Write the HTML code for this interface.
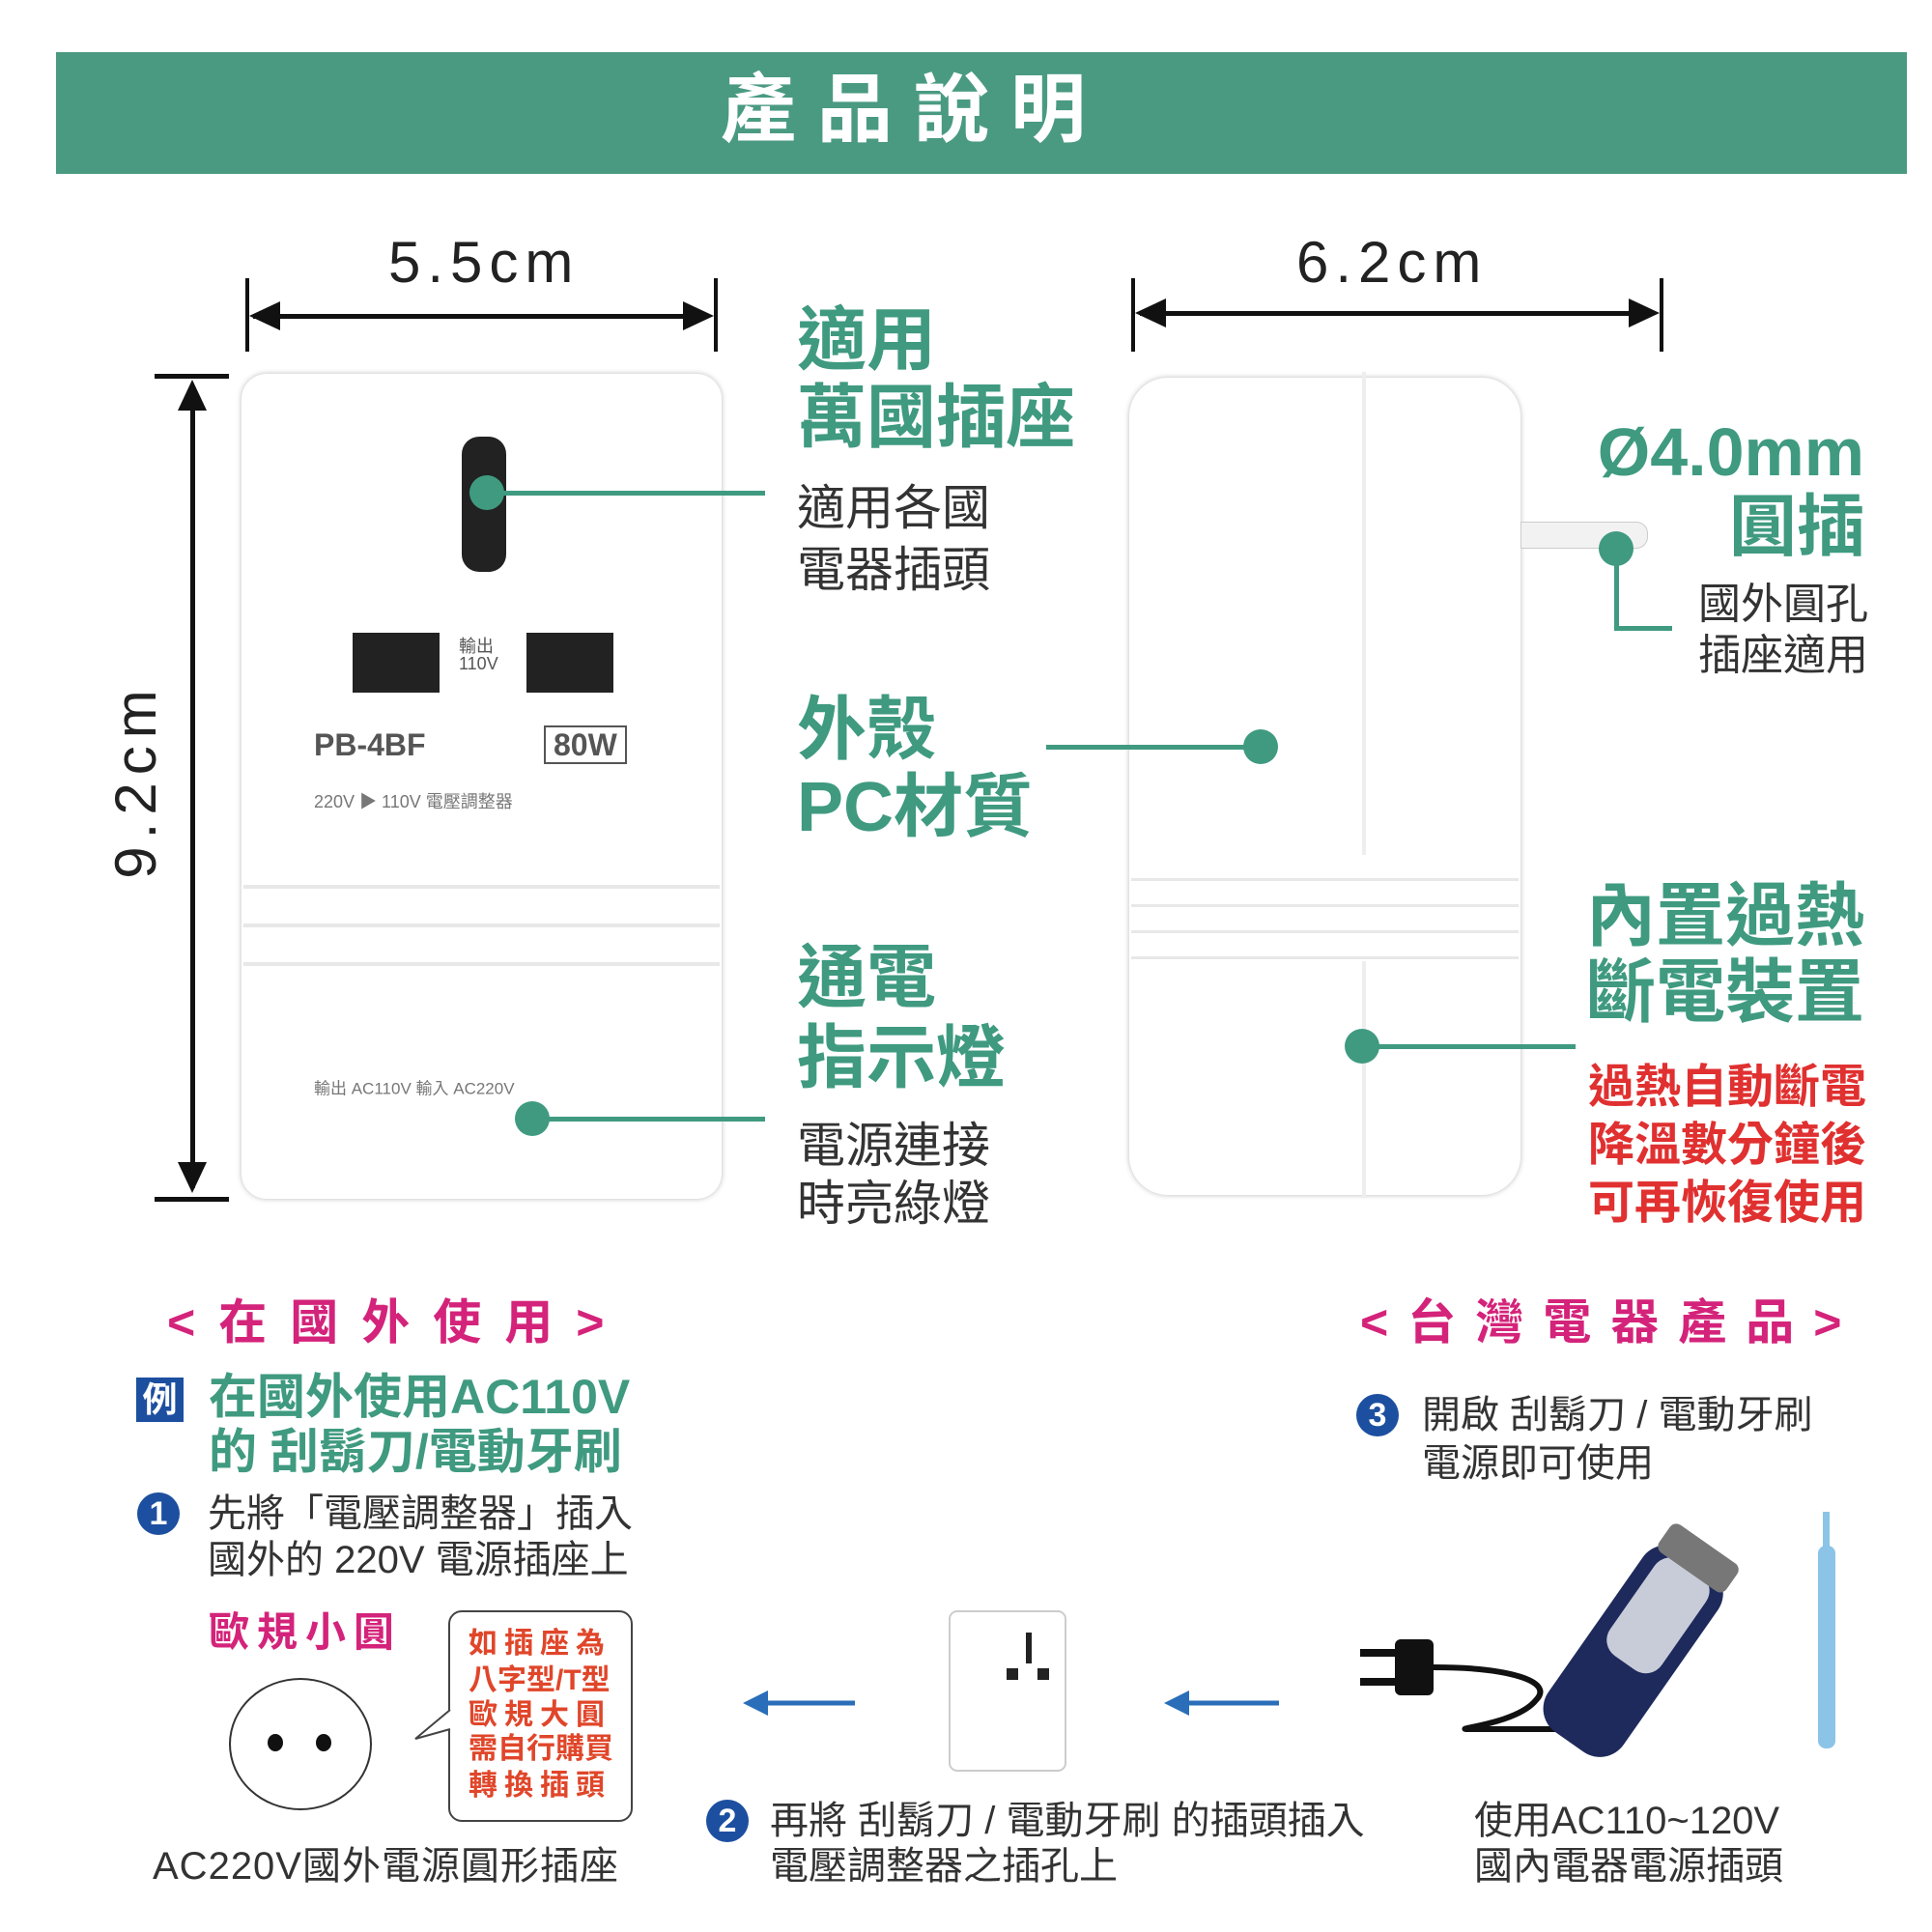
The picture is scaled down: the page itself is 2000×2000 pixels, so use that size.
<!DOCTYPE html>
<html><head><meta charset="utf-8"><style>
body{margin:0;width:2000px;height:2000px;background:#fff;position:relative;overflow:hidden;font-family:"Liberation Sans","Noto Sans CJK TC",sans-serif}
.t{position:absolute;white-space:nowrap;line-height:1;transform:translateY(-50%)}
.g{color:#3f9a80;font-weight:bold}
.k{color:#333}
.m{color:#d4237a;font-weight:bold}
.r{color:#e0462a;font-weight:bold}
.red{color:#e03030;font-weight:bold}
.ln{position:absolute;background:#3f9a80}
.dot{position:absolute;width:36px;height:36px;border-radius:50%;background:#3f9a80;transform:translate(-50%,-50%)}
.blk{position:absolute;background:#111}
.num{position:absolute;width:44px;height:44px;border-radius:50%;background:#1d4fa0;color:#fff;font-weight:bold;font-size:34px;line-height:44px;text-align:center;transform:translate(-50%,-50%)}
</style></head><body>
<div style="position:absolute;left:58px;top:54px;width:1916px;height:126px;background:#4a9a82"></div>
<div class="t" style="left:746px;top:113px;font-size:78px;color:#fff;font-weight:bold;letter-spacing:22px">產品說明</div>

<div class="t" style="left:402px;top:272px;font-size:60px;color:#222;letter-spacing:7px">5.5cm</div>
<div class="blk" style="left:254px;top:288px;width:4px;height:76px"></div>
<div class="blk" style="left:739px;top:288px;width:4px;height:76px"></div>
<div class="blk" style="left:262px;top:325px;width:470px;height:5px"></div>
<svg style="position:absolute;left:0;top:0" width="2000" height="2000">
<polygon points="258,327 290,312 290,342" fill="#111"/>
<polygon points="739,327 707,312 707,342" fill="#111"/>
<polygon points="1175,324 1207,309 1207,339" fill="#111"/>
<polygon points="1718,324 1686,309 1686,339" fill="#111"/>
<polygon points="199,393 184,425 214,425" fill="#111"/>
<polygon points="199,1235 184,1203 214,1203" fill="#111"/>
</svg>
<div class="t" style="left:1342px;top:272px;font-size:60px;color:#222;letter-spacing:7px">6.2cm</div>
<div class="blk" style="left:1171px;top:288px;width:4px;height:76px"></div>
<div class="blk" style="left:1718px;top:288px;width:4px;height:76px"></div>
<div class="blk" style="left:1180px;top:322px;width:530px;height:5px"></div>
<div class="blk" style="left:160px;top:387px;width:77px;height:5px"></div>
<div class="blk" style="left:160px;top:1239px;width:77px;height:5px"></div>
<div class="blk" style="left:197px;top:400px;width:5px;height:830px"></div>
<div class="t" style="left:141px;top:808px;font-size:60px;color:#222;letter-spacing:8px;transform:translate(-50%,-50%) rotate(-90deg)">9.2cm</div>

<div style="position:absolute;left:250px;top:387px;width:497px;height:854px;border-radius:26px;background:#fff;box-shadow:0 0 6px #bbb"></div>
<div style="position:absolute;left:252px;top:880px;width:493px;height:150px;background:repeating-linear-gradient(#fff 0 36px,#e8e8e8 36px 40px)"></div>
<div class="blk" style="left:478px;top:452px;width:46px;height:140px;border-radius:18px;background:#222"></div>
<div class="blk" style="left:365px;top:655px;width:90px;height:62px;background:#222"></div>
<div class="blk" style="left:545px;top:655px;width:90px;height:62px;background:#222"></div>
<div class="t" style="left:475px;top:678px;font-size:18px;color:#555">輸出<br>110V</div>
<div class="t" style="left:325px;top:771px;font-size:32px;color:#555;font-weight:bold">PB-4BF</div>
<div class="t" style="left:563px;top:771px;font-size:32px;color:#555;font-weight:bold;border:2px solid #555;padding:2px 8px">80W</div>
<div class="t" style="left:325px;top:830px;font-size:18px;color:#777">220V ▶ 110V 電壓調整器</div>
<div class="t" style="left:325px;top:1127px;font-size:17px;color:#777">輸出 AC110V 輸入 AC220V</div>
<div class="dot" style="left:504px;top:510px"></div>
<div class="ln" style="left:504px;top:508px;width:288px;height:5px"></div>
<div class="dot" style="left:551px;top:1158px"></div>
<div class="ln" style="left:551px;top:1156px;width:241px;height:5px"></div>

<div style="position:absolute;left:1169px;top:391px;width:405px;height:846px;border-radius:40px;background:#fff;box-shadow:0 0 6px #bbb"></div>
<div style="position:absolute;left:1410px;top:385px;width:4px;height:855px;background:#eee"></div>
<div style="position:absolute;left:1171px;top:885px;width:401px;height:110px;background:repeating-linear-gradient(#fff 0 24px,#e8e8e8 24px 27px)"></div>
<div style="position:absolute;left:1574px;top:540px;width:130px;height:26px;background:#f2f2f2;border:1px solid #ccc;border-radius:0 12px 12px 0"></div>
<div class="dot" style="left:1305px;top:773px"></div>
<div class="ln" style="left:1083px;top:771px;width:222px;height:5px"></div>
<div class="dot" style="left:1410px;top:1083px"></div>
<div class="ln" style="left:1410px;top:1081px;width:221px;height:5px"></div>
<div class="dot" style="left:1673px;top:568px"></div>
<div class="ln" style="left:1671px;top:568px;width:5px;height:84px"></div>
<div class="ln" style="left:1671px;top:648px;width:60px;height:5px"></div>

<div class="t g" style="left:825px;top:353px;font-size:72px">適用</div>
<div class="t g" style="left:825px;top:433px;font-size:72px">萬國插座</div>
<div class="t k" style="left:825px;top:526px;font-size:50px">適用各國</div>
<div class="t k" style="left:825px;top:590px;font-size:50px">電器插頭</div>
<div class="t g" style="left:825px;top:756px;font-size:72px">外殼</div>
<div class="t g" style="left:825px;top:836px;font-size:72px">PC材質</div>
<div class="t g" style="left:825px;top:1013px;font-size:72px">通電</div>
<div class="t g" style="left:825px;top:1096px;font-size:72px">指示燈</div>
<div class="t k" style="left:825px;top:1186px;font-size:50px">電源連接</div>
<div class="t k" style="left:825px;top:1246px;font-size:50px">時亮綠燈</div>
<div class="t g" style="right:70px;top:468px;font-size:70px">Ø4.0mm</div>
<div class="t g" style="right:70px;top:545px;font-size:70px">圓插</div>
<div class="t k" style="right:66px;top:626px;font-size:44px">國外圓孔</div>
<div class="t k" style="right:66px;top:679px;font-size:44px">插座適用</div>
<div class="t g" style="right:70px;top:949px;font-size:72px">內置過熱</div>
<div class="t g" style="right:70px;top:1028px;font-size:72px">斷電裝置</div>
<div class="t red" style="right:68px;top:1126px;font-size:48px">過熱自動斷電</div>
<div class="t red" style="right:68px;top:1186px;font-size:48px">降溫數分鐘後</div>
<div class="t red" style="right:68px;top:1246px;font-size:48px">可再恢復使用</div>

<div class="t m" style="left:173px;top:1369px;font-size:50px;letter-spacing:24px">&lt;在國外使用&gt;</div>
<div class="t m" style="left:1408px;top:1369px;font-size:50px;letter-spacing:20px">&lt;台灣電器產品&gt;</div>
<div style="position:absolute;left:141px;top:1426px;width:49px;height:46px;background:#1d4fa0;color:#fff;font-weight:bold;font-size:36px;line-height:46px;text-align:center">例</div>
<div class="t g" style="left:216px;top:1446px;font-size:50px">在國外使用AC110V</div>
<div class="t g" style="left:216px;top:1503px;font-size:50px">的 刮鬍刀/電動牙刷</div>
<div class="num" style="left:164px;top:1567px">1</div>
<div class="t k" style="left:215px;top:1567px;font-size:40px">先將「電壓調整器」插入</div>
<div class="t k" style="left:215px;top:1615px;font-size:40px">國外的 220V 電源插座上</div>
<div class="t m" style="left:216px;top:1690px;font-size:42px;letter-spacing:8px">歐規小圓</div>
<div style="position:absolute;left:237px;top:1737px;width:144px;height:133px;border:2px solid #333;border-radius:50%"></div>
<div style="position:absolute;left:277px;top:1795px;width:16px;height:18px;border-radius:50%;background:#111"></div>
<div style="position:absolute;left:327px;top:1795px;width:16px;height:18px;border-radius:50%;background:#111"></div>
<div style="position:absolute;left:464px;top:1667px;width:187px;height:215px;border:2px solid #444;border-radius:14px"></div>
<svg style="position:absolute;left:0;top:0" width="2000" height="2000"><polyline points="466,1770 430,1800 466,1790" fill="#fff" stroke="#444" stroke-width="2"/></svg>
<div class="t r" style="left:485px;top:1702px;font-size:30px;letter-spacing:7px">如插座為</div>
<div class="t r" style="left:485px;top:1740px;font-size:30px">八字型/T型</div>
<div class="t r" style="left:485px;top:1776px;font-size:30px;letter-spacing:7px">歐規大圓</div>
<div class="t r" style="left:485px;top:1811px;font-size:30px">需自行購買</div>
<div class="t r" style="left:485px;top:1849px;font-size:30px;letter-spacing:7px">轉換插頭</div>
<div class="t k" style="left:158px;top:1932px;font-size:40px;letter-spacing:1px">AC220V國外電源圓形插座</div>
<div class="num" style="left:753px;top:1885px">2</div>
<div class="t k" style="left:797px;top:1885px;font-size:40px">再將 刮鬍刀 / 電動牙刷 的插頭插入</div>
<div class="t k" style="left:797px;top:1932px;font-size:40px">電壓調整器之插孔上</div>
<div class="num" style="left:1426px;top:1465px">3</div>
<div class="t k" style="left:1472px;top:1465px;font-size:40px">開啟 刮鬍刀 / 電動牙刷</div>
<div class="t k" style="left:1472px;top:1515px;font-size:40px">電源即可使用</div>
<div class="t k" style="left:1526px;top:1885px;font-size:40px">使用AC110~120V</div>
<div class="t k" style="left:1526px;top:1932px;font-size:40px">國內電器電源插頭</div>

<svg style="position:absolute;left:0;top:0" width="2000" height="2000">
<line x1="790" y1="1763" x2="885" y2="1763" stroke="#2a6db8" stroke-width="5"/>
<polygon points="769,1763 795,1750 795,1776" fill="#2a6db8"/>
<line x1="1226" y1="1763" x2="1324" y2="1763" stroke="#2a6db8" stroke-width="5"/>
<polygon points="1205,1763 1231,1750 1231,1776" fill="#2a6db8"/>
<rect x="983" y="1668" width="120" height="165" rx="8" fill="#fff" stroke="#ccc" stroke-width="2"/>
<rect x="1062" y="1690" width="6" height="32" fill="#222"/>
<rect x="1042" y="1727" width="12" height="12" fill="#222"/><rect x="1074" y="1727" width="12" height="12" fill="#222"/>
<rect x="1408" y="1707" width="40" height="8" fill="#111"/><rect x="1408" y="1737" width="40" height="8" fill="#111"/>
<rect x="1444" y="1697" width="40" height="58" rx="6" fill="#111"/>
<path d="M1484,1726 C1560,1726 1610,1740 1590,1760 C1570,1785 1500,1790 1520,1790 L1610,1790" fill="none" stroke="#111" stroke-width="6"/>
<g transform="rotate(35 1680 1720)"><rect x="1635" y="1590" width="95" height="230" rx="30" fill="#1e2a5c"/><rect x="1650" y="1600" width="65" height="120" rx="20" fill="#c8ccd8"/><rect x="1640" y="1570" width="85" height="35" rx="8" fill="#777"/></g>
<rect x="1882" y="1600" width="18" height="210" rx="8" fill="#8cc4e8"/>
<rect x="1887" y="1565" width="7" height="40" fill="#8cc4e8"/>
</svg>
</body></html>
